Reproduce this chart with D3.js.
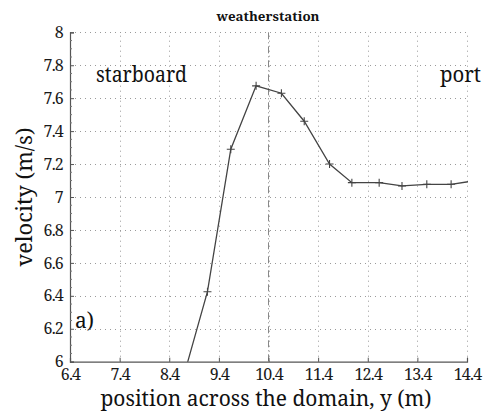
<!DOCTYPE html>
<html><head><meta charset="utf-8">
<script src="https://cdn.jsdelivr.net/npm/d3@7"></script>
<style>
html,body{margin:0;padding:0;background:#fff;}
svg{display:block;}
</style></head>
<body><svg id="chart" width="487" height="416"></svg>
<script>
// data
const positions = [8.67, 9.17, 9.64, 10.15, 10.66, 11.12, 11.63, 12.08, 12.63, 13.09, 13.59, 14.08, 14.58];
const velocities = [5.89, 6.425, 7.29, 7.675, 7.63, 7.46, 7.20, 7.087, 7.087, 7.067, 7.077, 7.077, 7.10];
const xTicks = [6.4, 7.4, 8.4, 9.4, 10.4, 11.4, 12.4, 13.4, 14.4];
const yTicks = [6, 6.2, 6.4, 6.6, 6.8, 7, 7.2, 7.4, 7.6, 7.8, 8];
const weatherStation = 10.4;
const title = "weatherstation";
const xLabel = "position across the domain, y (m)";
const yLabel = "velocity (m/s)";
const FONT = "'Noto Serif', 'DejaVu Serif', serif";

const svg = d3.select("#chart");
const x = d3.scaleLinear().domain([6.4, 14.4]).range([70, 467]);
const y = d3.scaleLinear().domain([6, 8]).range([361.7, 32.3]);

svg.append("defs").append("clipPath").attr("id","clip")
  .append("rect").attr("x",x(6.4)).attr("y",y(8)-1).attr("width",x(14.4)-x(6.4)+1).attr("height",y(6)-y(8)+1);

const grid = svg.append("g").attr("stroke","#9a9a9a").attr("stroke-width",1).attr("stroke-dasharray","1,4");
grid.selectAll("line.h").data(yTicks.filter(d=>d>6)).join("line")
  .attr("x1",x(6.4)).attr("x2",x(14.4)).attr("y1",d=>Math.round(y(d))+0.5).attr("y2",d=>Math.round(y(d))+0.5);
grid.selectAll("line.v").data(xTicks.filter(d=>d>6.4)).join("line")
  .attr("y1",y(6)).attr("y2",y(8)).attr("x1",d=>Math.round(x(d))+0.5).attr("x2",d=>Math.round(x(d))+0.5);

svg.append("line").attr("x1",x(weatherStation)).attr("x2",x(weatherStation))
  .attr("y1",y(8)).attr("y2",y(6)).attr("stroke","#888").attr("stroke-width",1)
  .attr("stroke-dasharray","7,3,1,3");

const yAxis = d3.axisLeft(y).tickValues(yTicks).tickSize(-4).tickPadding(7).tickFormat(d3.format("~g"));
const gy = svg.append("g").attr("transform",`translate(${x(6.4)},0)`).call(yAxis);
const xAxis = d3.axisBottom(x).tickValues(xTicks).tickSize(-4).tickPadding(7).tickFormat(d3.format(".1f"));
const gx = svg.append("g").attr("transform",`translate(0,${y(6)})`).call(xAxis);
[gx,gy].forEach(g=>{
  g.attr("font-family",null).attr("font-size",null);
  g.select(".domain").attr("stroke","#555").attr("stroke-width",1.2);
  g.selectAll(".tick line").attr("stroke","#555");
  g.selectAll("text").style("font-family",FONT).attr("font-size",16).attr("fill","#1a1a1a")
    .style("letter-spacing","-0.8px");
});
const minorY = d3.range(6, 8.001, 0.05).filter(v=>Math.abs(v*5-Math.round(v*5))>1e-6);
svg.append("g").selectAll("line").data(minorY).join("line")
  .attr("x1",x(6.4)).attr("x2",x(6.4)+2).attr("y1",d=>y(d)).attr("y2",d=>y(d)).attr("stroke","#777");

const plot = svg.append("g").attr("clip-path","url(#clip)");
const pts = positions.map((p,i)=>[p, velocities[i]]);
plot.append("path").datum(pts)
  .attr("d", d3.line().x(d=>x(d[0])).y(d=>y(d[1])))
  .attr("fill","none").attr("stroke","#444").attr("stroke-width",1.3);
plot.selectAll("path.m").data(pts).join("path").attr("class","m")
  .attr("d", d=>{const cx=x(d[0]), cy=y(d[1]); return `M${cx-4},${cy}H${cx+4}M${cx},${cy-4}V${cy+4}`;})
  .attr("stroke","#444").attr("stroke-width",1.1);

function txt(s, size, len){ return svg.append("text").style("font-family",FONT).attr("fill","#111")
  .attr("font-size",size).attr("textLength",len).attr("lengthAdjust","spacingAndGlyphs").text(s); }
txt(title, 12, 103).attr("x",268).attr("y",20.5).attr("text-anchor","middle").style("font-weight","bold");
txt("starboard", 21, 91).attr("x",96).attr("y",82);
txt("port", 21, 41).attr("x",440).attr("y",82);
txt("a)", 21, 19).attr("x",75).attr("y",328);
txt(xLabel, 21, 331).attr("x",266).attr("y",406).attr("text-anchor","middle");
txt(yLabel, 21, 139).attr("transform","translate(32,197) rotate(-90)").attr("text-anchor","middle");
</script></body></html>
